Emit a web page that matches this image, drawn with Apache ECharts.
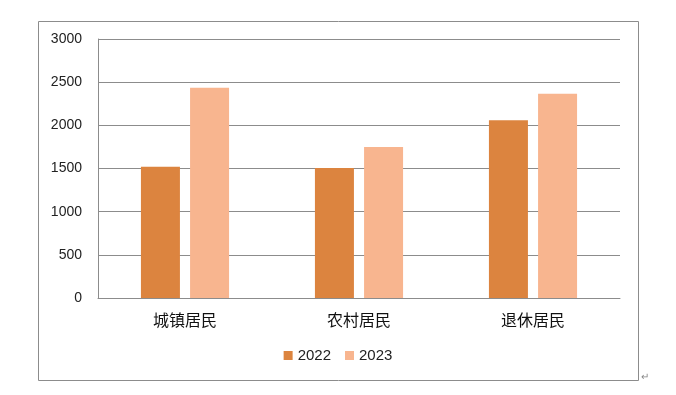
<!DOCTYPE html>
<html><head><meta charset="utf-8">
<script src="https://cdn.jsdelivr.net/npm/echarts@6/dist/echarts.min.js"></script>
<style>html,body{margin:0;padding:0;background:#fff}#c{width:676px;height:395px}</style>
</head><body><div id="c"></div>
<script>
const categories = ['城镇居民', '农村居民', '退休居民'];
const seriesNames = ['2022', '2023'];
const values2022 = [1520, 1505, 2060];
const values2023 = [2435, 1750, 2365];
const colors = ['#DC843F', '#F8B58F'];

const chart = echarts.init(document.getElementById('c'));
chart.setOption({
  animation: false,
  backgroundColor: '#fff',
  grid: { left: 98, right: 56, top: 39, bottom: 97, containLabel: false },
  legend: {
    data: seriesNames, bottom: 27, left: 'center', itemWidth: 9, itemHeight: 9, itemGap: 14, icon: 'rect',
    textStyle: { fontFamily: 'Liberation Sans', fontSize: 15, color: '#222' }
  },
  xAxis: {
    type: 'category', data: categories,
    axisLine: { lineStyle: { color: '#8c8c8c', width: 1 } },
    axisTick: { show: false },
    axisLabel: { fontFamily: 'Noto Sans CJK SC', fontSize: 16, color: '#111', margin: 14 }
  },
  yAxis: {
    type: 'value', min: 0, max: 3000, interval: 500,
    axisLine: { show: true, lineStyle: { color: '#8c8c8c', width: 1 } },
    axisTick: { show: false },
    splitLine: { lineStyle: { color: '#8c8c8c', width: 1 } },
    axisLabel: { fontFamily: 'Liberation Sans', fontSize: 14, color: '#222', margin: 16, formatter: v => String(v) }
  },
  series: [
    { name: seriesNames[0], type: 'bar', data: values2022, barWidth: 39, barGap: '26%', itemStyle: { color: colors[0] } },
    { name: seriesNames[1], type: 'bar', data: values2023, barWidth: 39, itemStyle: { color: colors[1] } }
  ],
  graphic: [
    { type: 'rect', shape: { x: 38.5, y: 21.5, width: 600, height: 359 }, style: { fill: 'none', stroke: '#8c8c8c', lineWidth: 1 }, silent: true },
    { type: 'text', left: 641, top: 372, style: { text: '↵', fill: '#888', fontSize: 10 } }
  ]
});
</script></body></html>
